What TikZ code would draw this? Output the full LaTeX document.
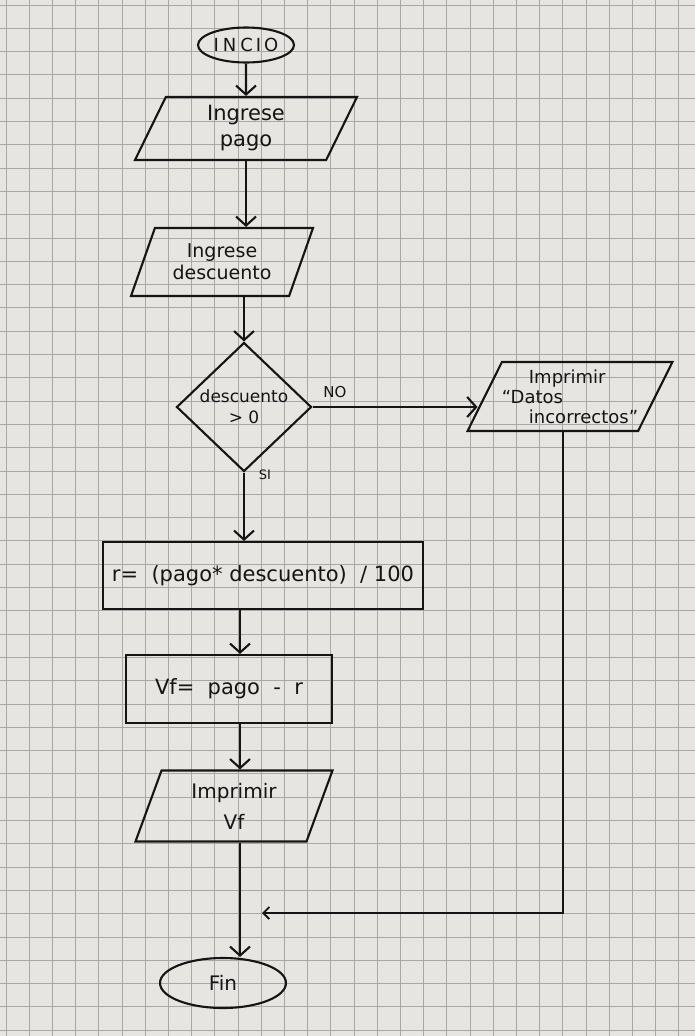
\documentclass[tikz,border=0pt]{standalone}
\usepackage{fontspec}
\setmainfont{DejaVu Sans}
\usetikzlibrary{shapes.geometric,arrows.meta}
\definecolor{paper}{HTML}{E7E5E2}
\definecolor{gridc}{HTML}{AAA8A6}
\definecolor{ink}{HTML}{151515}
\newcommand\hwsize[2]{\fontsize{#1}{#2}\selectfont}
\tikzset{
  base/.style={draw=ink, line width=2.1pt, inner sep=0pt, text=ink},
  term/.style={base, ellipse},
  io/.style={base, trapezium, trapezium stretches body, align=center},
  procbox/.style={base, rectangle, align=center},
  decision/.style={base, diamond, align=center},
  arr/.style={draw=ink, line width=2.1pt, -{Straight Barb[length=9pt,width=20pt]}},
  arrsmall/.style={draw=ink, line width=1.8pt, -{Straight Barb[length=6pt,width=12pt]}},
  lbl/.style={text=ink, inner sep=0pt},
  gridline/.style={draw=gridc, line width=0.9pt},
}
\begin{document}
\begin{tikzpicture}[x=1pt,y=-1pt]
\useasboundingbox (0,0) rectangle (695,1036);
\fill[paper] (0,0) rectangle (695,1036);
\foreach \i in {0,...,29} {\draw[gridline] ({6+23.2*\i},0) -- ({6+23.2*\i},1036);}
\foreach \j in {0,...,44} {\draw[gridline] (0,{5+23.3*\j}) -- (695,{5+23.3*\j});}

% nodes
\node[term, minimum width=96pt, minimum height=35pt, font=\hwsize{18}{20}] (ini) at (246,45) {I\kern4pt N\kern4pt C\kern3pt I\kern3pt O};
\node[io, trapezium left angle=56, trapezium right angle=124, minimum width=222pt, minimum height=63pt, font=\hwsize{21}{26}] (p1) at (246,128.5) {Ingrese\\pago};
\node[io, trapezium left angle=56.5, trapezium right angle=123.5, minimum width=182pt, minimum height=68pt, font=\hwsize{19}{22}] (p2) at (222,262) {Ingrese\\descuento};
\node[decision, minimum width=135pt, minimum height=129pt, font=\hwsize{17}{21}] (dec) at (244,407) {descuento\\> 0};
\node[io, trapezium left angle=57.5, trapezium right angle=122.5, minimum width=204pt, minimum height=69pt, font=\hwsize{18}{20}, align=left] (p4) at (570,396.5) {\hspace*{27pt}Imprimir\\“Datos\\\hspace*{27pt}incorrectos”};
\node[procbox, minimum width=320pt, minimum height=67pt, font=\hwsize{21}{24}] (r1) at (263,575.5) {r=\ \ (pago* descuento)\ \ /\ 100};
\node[procbox, minimum width=206pt, minimum height=68pt, font=\hwsize{21}{24}] (r2) at (229,689) {Vf=\ \ pago\ \ -\ \ r};
\node[io, trapezium left angle=60.6, trapezium right angle=119.4, minimum width=197pt, minimum height=71pt, font=\hwsize{20}{31}] (p3) at (234,806) {Imprimir\\Vf};
\node[term, minimum width=126pt, minimum height=50pt, font=\hwsize{20}{22}] (fin) at (223,983) {Fin};

\node[lbl, font=\hwsize{15}{17}] (no) at (335,392) {NO};
\node[lbl, font=\hwsize{13}{15}] (si) at (265,475) {SI};

% connectors
\coordinate (ax) at (240,0);
\coordinate (rc) at (563,913);
\coordinate (re) at (262,913);
\draw[arr] (ini.south) -- (p1.north);
\draw[arr] (p1.south) -- (p1.south |- p2.north);
\draw[arr] (dec.north |- p2.south) -- (dec.north);
\draw[arr, shorten >=6pt] (dec.east) -- (dec.east -| p4.west);
\draw[arr] (dec.south) -- (dec.south |- r1.north);
\draw[arr] (ax |- r1.south) -- (ax |- r2.north);
\draw[arr] (ax |- r2.south) -- (ax |- p3.north);
\draw[arr] (ax |- p3.south) -- (ax |- fin.north);
\draw[arrsmall] (rc |- p4.south) -- (rc) -- (re);
\end{tikzpicture}
\end{document}
